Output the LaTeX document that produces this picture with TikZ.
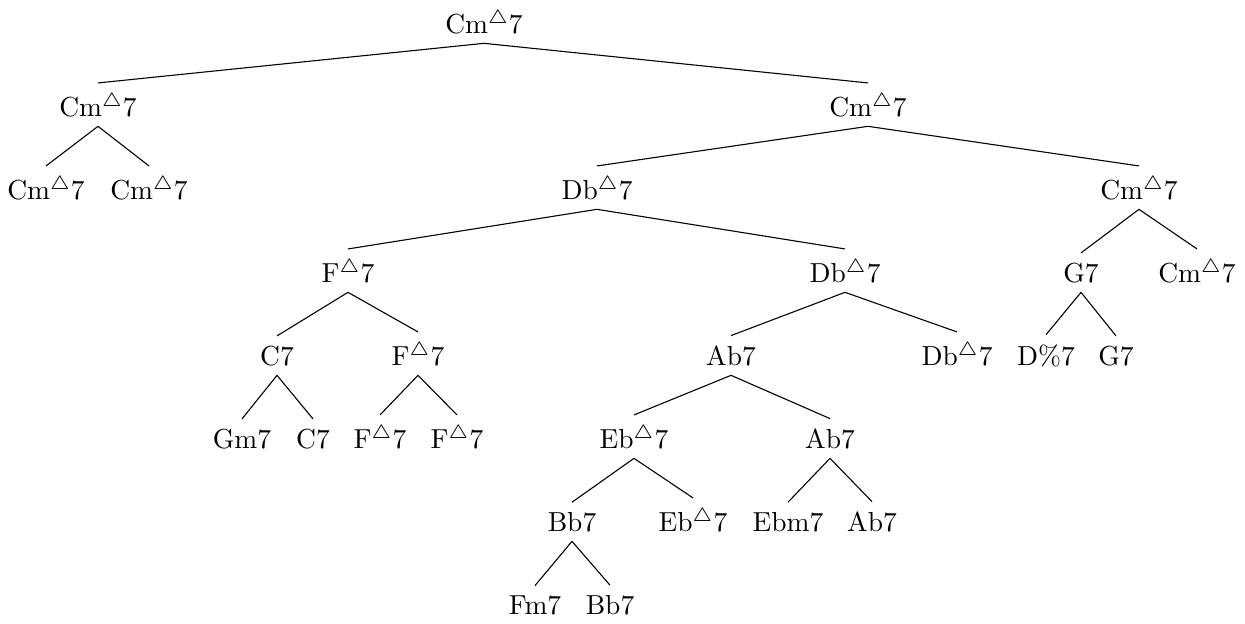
\documentclass[tikz,border=0pt]{standalone}
\begin{document}
\begin{tikzpicture}[x=0.3636pt,y=-0.3636pt,
  chord/.style={anchor=base},
  branch/.style={draw=black,line width=0.4pt}]
\useasboundingbox (0,0) rectangle (1245,623);
% row 0
\node[chord] (r) at (484,33) {Cm$^\triangle$7};
% row 1
\node[chord] (a) at (98,116) {Cm$^\triangle$7};
\node[chord] (b) at (868,116) {Cm$^\triangle$7};
% row 2
\node[chord] (a1) at (46,199) {Cm$^\triangle$7};
\node[chord] (a2) at (149,199) {Cm$^\triangle$7};
\node[chord] (b1) at (597,199) {Db$^\triangle$7};
\node[chord] (b2) at (1139,199) {Cm$^\triangle$7};
% row 3
\node[chord] (c1) at (348,282) {F$^\triangle$7};
\node[chord] (c2) at (845,282) {Db$^\triangle$7};
\node[chord] (d1) at (1081,282) {G7};
\node[chord] (d2) at (1197,282) {Cm$^\triangle$7};
% row 4
\node[chord] (e1) at (277,365) {C7};
\node[chord] (e2) at (418,365) {F$^\triangle$7};
\node[chord] (f1) at (731,365) {Ab7};
\node[chord] (f2) at (957,365) {Db$^\triangle$7};
\node[chord] (g1) at (1046,365) {D\%7};
\node[chord] (g2) at (1116,365) {G7};
% row 5
\node[chord] (h1) at (242,448) {Gm7};
\node[chord] (h2) at (313,448) {C7};
\node[chord] (i1) at (380,448) {F$^\triangle$7};
\node[chord] (i2) at (457,448) {F$^\triangle$7};
\node[chord] (j1) at (634,448) {Eb$^\triangle$7};
\node[chord] (j2) at (830,448) {Ab7};
% row 6
\node[chord] (k1) at (572,531) {Bb7};
\node[chord] (k2) at (693,531) {Eb$^\triangle$7};
\node[chord] (l1) at (788,531) {Ebm7};
\node[chord] (l2) at (872,531) {Ab7};
% row 7
\node[chord] (m1) at (535,614) {Fm7};
\node[chord] (m2) at (610,614) {Bb7};
% branches
\foreach \p/\c in {r/a,r/b,a/a1,a/a2,b/b1,b/b2,b1/c1,b1/c2,b2/d1,b2/d2,
  c1/e1,c1/e2,c2/f1,c2/f2,d1/g1,d1/g2,e1/h1,e1/h2,e2/i1,e2/i2,
  f1/j1,f1/j2,j1/k1,j1/k2,j2/l1,j2/l2,k1/m1,k1/m2}
  \draw[branch] (\p.south) -- (\c.north);
\end{tikzpicture}
\end{document}
